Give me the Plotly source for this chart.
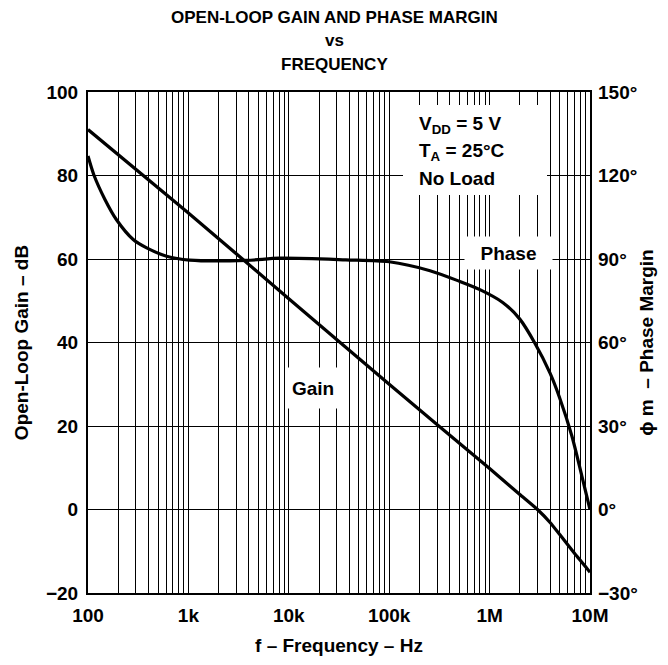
import plotly.graph_objects as go

# ---- data ----
gain_freq_hz = [100, 1e3, 1e4, 1e5, 1e6, 2e6, 3e6, 4e6, 5e6, 7e6, 1e7]
gain_db = [91, 71, 50.5, 30, 9.8, 3.6, 0, -3.1, -6.0, -10.5, -15]

phase_freq_hz = [100, 115, 147, 193, 282, 384, 607, 1030, 3800, 8100, 37000,
                 100000, 255000, 500000, 800000, 1.35e6, 2e6, 2.8e6, 4e6,
                 5e6, 6.6e6, 8.3e6, 1e7]
phase_deg = [127, 120, 111.5, 104, 97, 94, 91, 89.6, 89.5, 90.3, 89.7,
             89, 85.8, 82, 79, 74.4, 68.4, 60, 49, 40, 26.4, 12, 0]

decade_labels = ["100", "1k", "10k", "100k", "1M", "10M"]
gain_ticks = [-20, 0, 20, 40, 60, 80, 100]
gain_labels = ["\u221220", "0", "20", "40", "60", "80", "100"]
phase_ticks = [-30, 0, 30, 60, 90, 120, 150]
phase_labels = ["\u221230\u00b0", "0\u00b0", "30\u00b0", "60\u00b0", "90\u00b0", "120\u00b0", "150\u00b0"]

# grid positions (1..9 x each decade), labels only on decades
grid_vals = []
grid_text = []
for d in range(2, 7):
    for m in range(1, 10):
        grid_vals.append(m * 10 ** d)
        grid_text.append(decade_labels[d - 2] if m == 1 else " ")
grid_vals.append(1e7)
grid_text.append(decade_labels[-1])

FONT = "Liberation Sans, Arial, Helvetica, sans-serif"
TS = 19  # text size

# plot area in page pixels (page has an 8px body margin)
L, R, T, B = 88, 590, 92, 593
W, H = 668, 665
ML, MT = L - 8, T - 8
MR = W - ML - (R - L)
MB = H - MT - (B - T)


def px(xp):
    return (xp - L) / (R - L)


def py(yp):
    return (B - yp) / (B - T)


fig = go.Figure()
fig.add_trace(go.Scatter(x=gain_freq_hz, y=gain_db, mode="lines",
                         line=dict(color="black", width=3.2, shape="spline", smoothing=0.5),
                         showlegend=False, cliponaxis=False))
fig.add_trace(go.Scatter(x=phase_freq_hz, y=phase_deg, mode="lines", yaxis="y2",
                         line=dict(color="black", width=3.2, shape="spline", smoothing=0.8),
                         showlegend=False, cliponaxis=False))

fig.update_layout(
    width=W, height=H,
    margin=dict(l=ML, r=MR, t=MT, b=MB, autoexpand=False),
    paper_bgcolor="white", plot_bgcolor="white",
    font=dict(family=FONT, color="black"),
    xaxis=dict(type="log", range=[2, 7], tickmode="array", tickvals=grid_vals, ticktext=grid_text,
               showgrid=True, gridcolor="black", gridwidth=1, automargin=False,
               showline=True, linecolor="black", linewidth=2, mirror=True,
               ticks="", zeroline=False, ticklabelstandoff=4, tickangle=0,
               tickfont=dict(size=TS, weight="bold"),
               title=dict(text="f \u2013 Frequency \u2013 Hz", font=dict(size=TS, weight="bold"), standoff=14)),
    yaxis=dict(range=[-20, 100], tickmode="array", tickvals=gain_ticks, ticktext=gain_labels,
               showgrid=True, gridcolor="black", gridwidth=1, zeroline=False, automargin=False,
               showline=True, linecolor="black", linewidth=2, mirror=True, ticks="",
               ticklabelstandoff=4,
               tickfont=dict(size=TS, weight="bold"),
               title=dict(text="Open-Loop Gain \u2013 dB", font=dict(size=TS, weight="bold"), standoff=12)),
    yaxis2=dict(range=[-30, 150], overlaying="y", side="right", tickmode="array",
                tickvals=phase_ticks, ticktext=phase_labels, showgrid=False, zeroline=False,
                automargin=False,
                ticks="", ticklabelstandoff=7, tickfont=dict(size=TS, weight="bold"),
                title=dict(text="\u03d5 m  \u2013 Phase Margin", font=dict(size=TS, weight="bold"), standoff=2)),
)

# white box behind the conditions text (covers the grid there)
fig.add_shape(type="rect", xref="paper", yref="paper",
              x0=px(403), x1=px(547), y0=py(195), y1=py(105),
              fillcolor="white", line=dict(width=0), layer="above")

cond_lines = ["V<sub>DD</sub> = 5 V", "T<sub>A</sub> = 25\u00b0C", "No Load"]
cond_y_px = [125, 152, 178]
for t, ypx in zip(cond_lines, cond_y_px):
    fig.add_annotation(text=t, xref="paper", yref="paper", x=px(417), y=py(ypx),
                       xanchor="left", yanchor="middle", showarrow=False,
                       font=dict(size=TS, weight="bold"))

fig.add_annotation(text="Phase", xref="paper", yref="paper", x=px(508), y=py(253),
                   xanchor="center", yanchor="middle",
                   showarrow=False, bgcolor="white", width=85, height=30,
                   font=dict(size=TS, weight="bold"))
fig.add_annotation(text="Gain", xref="paper", yref="paper", x=px(313), y=py(388),
                   xanchor="center", yanchor="middle",
                   showarrow=False, bgcolor="white", width=50, height=38,
                   font=dict(size=TS, weight="bold"))

title_lines = ["OPEN-LOOP GAIN AND PHASE MARGIN", "vs", "FREQUENCY"]
title_y_px = [17, 41, 65]
for t, ypx in zip(title_lines, title_y_px):
    fig.add_annotation(text=t, xref="paper", yref="paper", x=px(334), y=py(ypx),
                       xanchor="center", yanchor="middle", showarrow=False,
                       font=dict(size=17, weight="bold"))

fig.write_html("out.html")
